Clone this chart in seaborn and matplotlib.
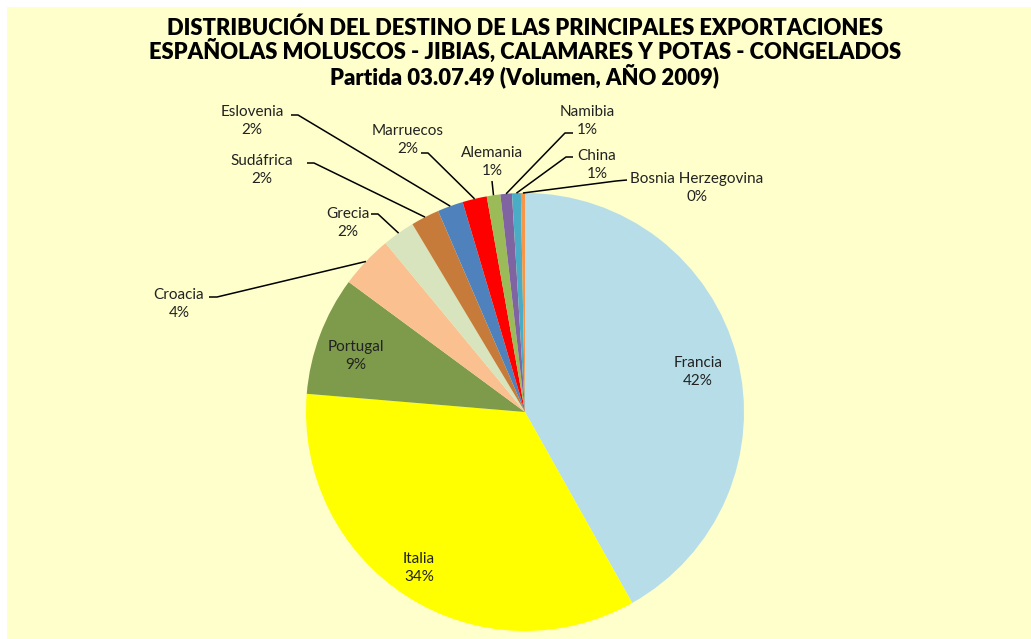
import numpy as np
import matplotlib
matplotlib.use("Agg")
import matplotlib.pyplot as plt
import seaborn as sns
from matplotlib.patches import Rectangle

sns.set_theme(style="white")
plt.rcParams["font.family"] = ["Lato", "DejaVu Sans"]

# data
countries = ["Francia", "Italia", "Portugal", "Croacia", "Grecia", "Sudáfrica",
             "Eslovenia", "Marruecos", "Alemania", "Namibia", "China", "Bosnia Herzegovina"]
shares = [41.9, 34.5, 8.8, 3.9, 2.4, 2.1, 1.9, 1.8, 1.0, 0.85, 0.65, 0.3]
colors = ["#B7DEE8", "#FFFF00", "#7E9A4B", "#FAC090", "#D7E4BD", "#C77B3B",
          "#4F81BD", "#FF0000", "#9BBB59", "#8064A2", "#4BACC6", "#F79646"]
palette = sns.color_palette(colors)

title = ("DISTRIBUCIÓN DEL DESTINO DE LAS PRINCIPALES EXPORTACIONES\n"
         "ESPAÑOLAS MOLUSCOS - JIBIAS, CALAMARES Y POTAS - CONGELADOS\n"
         "Partida 03.07.49 (Volumen, AÑO 2009)")

W, H = 1031, 639
CX, CY, R = 525, 412, 219

fig = plt.figure(figsize=(W / 100, H / 100), dpi=100)
fig.patch.set_facecolor("white")
bg = Rectangle((7 / W, 0), 1 - 7 / W, 1 - 7 / H, transform=fig.transFigure,
               facecolor="#FFFFCC", edgecolor="none")
bg.set_zorder(-10)
fig.add_artist(bg)

ax = fig.add_axes([0, 0, 1, 1])
ax.set_zorder(1)
ax.patch.set_alpha(0)
wedges, _ = ax.pie(shares, colors=palette, startangle=90, counterclock=False,
                   radius=1, wedgeprops=dict(linewidth=0))
ax.set_xlim(-CX / R, (W - CX) / R)
ax.set_ylim(-(H - CY) / R, CY / R)
ax.set_aspect("auto")
ax.axis("off")

def px(x, y):
    return (x - CX) / R, (CY - y) / R

pct = np.array(shares) / sum(shares) * 100
labels = [f"{c}\n{p:.0f}%" for c, p in zip(countries, pct)]

# label layout: text centre (pixels), leader anchor + elbow (pixels) or None
layout = {
    "Francia": ((698, 372), None),
    "Italia": ((419, 568), None),
    "Portugal": ((356, 356), None),
    "Croacia": ((179, 304), ((209, 297), (217, 297))),
    "Grecia": ((348, 223), ((371, 214), (378, 214))),
    "Sudáfrica": ((262, 170), ((307, 163), (314, 163))),
    "Eslovenia": ((252, 121), ((291, 115), (298, 115))),
    "Marruecos": ((408, 140), ((421, 153), (428, 153))),
    "Alemania": ((492, 162), ((492, 181), (492, 181))),
    "Namibia": ((587, 121), ((573, 133), (565, 133))),
    "China": ((597, 165), ((573, 157), (566, 157))),
    "Bosnia Herzegovina": ((697, 188), ((627, 180), (616, 181))),
}

for w, c, lab in zip(wedges, countries, labels):
    (tx, ty), lead = layout[c]
    ax.text(*px(tx, ty), lab, ha="center", va="center", fontsize=11,
            color="#222222", linespacing=1.4)
    if lead is not None:
        mid = np.deg2rad((w.theta1 + w.theta2) / 2)
        ex, ey = np.cos(mid), np.sin(mid)
        (ax1, ay1), (bx, by) = lead
        p1 = px(ax1, ay1)
        p2 = px(bx, by)
        ax.plot([p1[0], p2[0], ex], [p1[1], p2[1], ey], color="black", lw=1.1,
                solid_capstyle="butt")

fig.text(525 / W, 1 - 53 / H, title, ha="center", va="center", fontsize=15.8,
         fontweight="heavy", color="black", linespacing=1.0)

fig.savefig("out.png", dpi=100, facecolor="white")
